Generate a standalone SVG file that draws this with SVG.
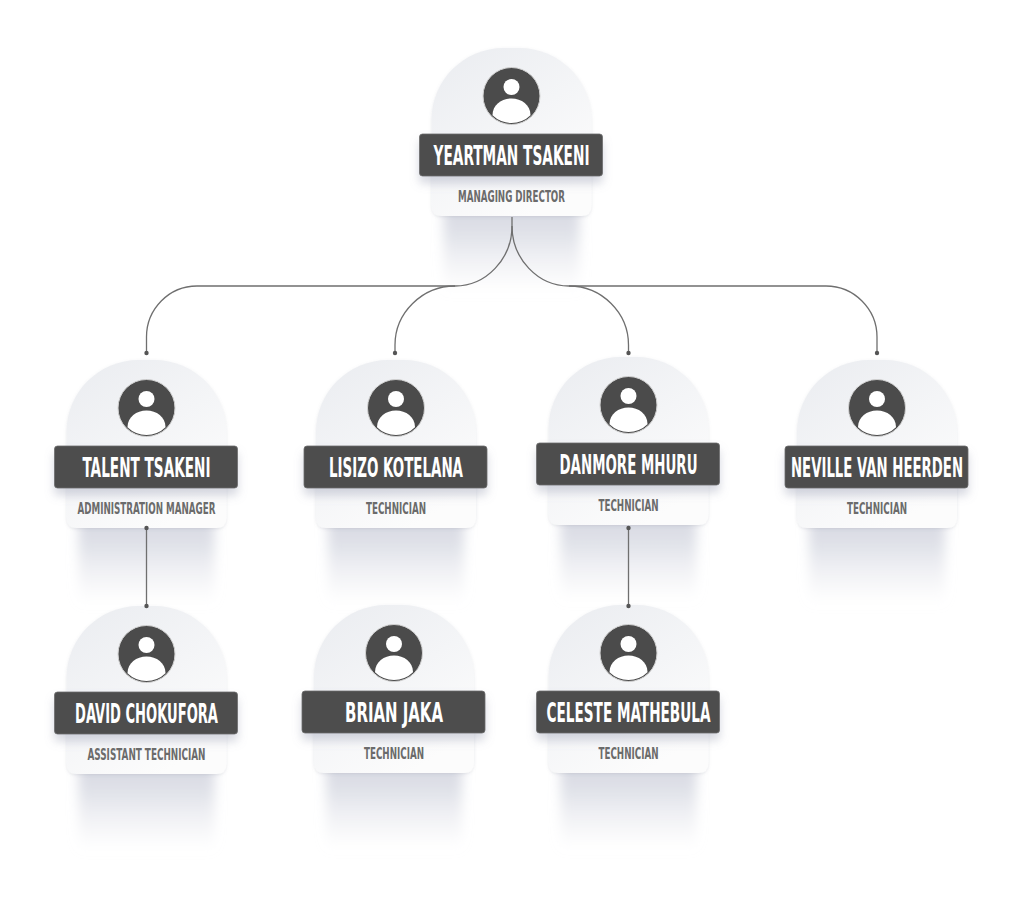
<svg xmlns="http://www.w3.org/2000/svg" xmlns:xlink="http://www.w3.org/1999/xlink" width="1024" height="901" viewBox="0 0 1024 901">
  <defs>
    <style>
      .name { font-family: "Liberation Sans Narrow", "DejaVu Sans Condensed", "Liberation Sans", sans-serif; font-weight: 700; font-size: 27px; fill: #ffffff; text-anchor: middle; }
      .role { font-family: "Liberation Sans Narrow", "DejaVu Sans Condensed", "Liberation Sans", sans-serif; font-weight: 700; font-size: 16px; fill: #6b6b6b; text-anchor: middle; }
      .link { fill: none; stroke: #6f6f6f; stroke-width: 1.3; }
      .dot { fill: #555555; }
    </style>
    <linearGradient id="cardFill" x1="0" y1="0" x2="0.6" y2="1">
      <stop offset="0" stop-color="#eaecf0"/>
      <stop offset="0.55" stop-color="#f4f5f7"/>
      <stop offset="1" stop-color="#fcfcfc"/>
    </linearGradient>
    <linearGradient id="shadowFill" x1="0" y1="0" x2="0" y2="1">
      <stop offset="0" stop-color="#c2c5d2" stop-opacity="0.95"/>
      <stop offset="0.5" stop-color="#cdd0db" stop-opacity="0.6"/>
      <stop offset="1" stop-color="#e2e3ea" stop-opacity="0"/>
    </linearGradient>
    <filter id="blurShadow" x="-30%" y="-30%" width="160%" height="160%">
      <feGaussianBlur stdDeviation="6"/>
    </filter>
    <filter id="cardEdge" x="-10%" y="-10%" width="120%" height="120%">
      <feDropShadow dx="0" dy="1" stdDeviation="1.5" flood-color="#7a7f90" flood-opacity="0.18"/>
    </filter>
    <filter id="barShadow" x="-10%" y="-30%" width="120%" height="190%">
      <feDropShadow dx="0" dy="7" stdDeviation="5" flood-color="#8a90a8" flood-opacity="0.35"/>
    </filter>
    <path id="card" d="M-80,72 A72,72 0 0 1 -8,0 L8,0 A72,72 0 0 1 80,72 L80,158 Q80,168 70,168 L-70,168 Q-80,168 -80,158 Z"/>
    <rect id="underShadow" x="-68" y="128" width="136" height="118" fill="url(#shadowFill)"/>
    <rect id="bar" x="-92" y="86" width="183" height="42" rx="3" fill="#4d4d4d" stroke="#6d6d6d" stroke-width="0.8"/>
    <g id="avatar">
      <circle r="28.5" fill="#4b4b4b" stroke="#d2d2d2" stroke-width="1"/>
      <circle cy="-9" r="8" fill="#ffffff"/>
      <path d="M-19,19.2 C-19,9 -10,2.5 0,2.5 C10,2.5 19,9 19,19.2 A27,27 0 0 1 -19,19.2 Z" fill="#ffffff"/>
    </g>
  </defs>

  <rect width="1024" height="901" fill="#ffffff"/>

  <g id="node-yeartman" transform="translate(511.5,48)">
    <use href="#underShadow" filter="url(#blurShadow)"/>
    <use href="#card" fill="url(#cardFill)" filter="url(#cardEdge)"/>
    <use href="#avatar" y="48"/>
    <use href="#bar" filter="url(#barShadow)"/>
    <text class="name" x="0" y="116.5" textLength="156" lengthAdjust="spacingAndGlyphs">YEARTMAN TSAKENI</text>
    <text class="role" x="0" y="154" textLength="107" lengthAdjust="spacingAndGlyphs">MANAGING DIRECTOR</text>
  </g>

  <g id="node-talent" transform="translate(146.5,360)">
    <use href="#underShadow" filter="url(#blurShadow)"/>
    <use href="#card" fill="url(#cardFill)" filter="url(#cardEdge)"/>
    <use href="#avatar" y="48"/>
    <use href="#bar" filter="url(#barShadow)"/>
    <text class="name" x="0" y="116.5" textLength="128" lengthAdjust="spacingAndGlyphs">TALENT TSAKENI</text>
    <text class="role" x="0" y="154" textLength="138" lengthAdjust="spacingAndGlyphs">ADMINISTRATION MANAGER</text>
  </g>

  <g id="node-lisizo" transform="translate(396,360)">
    <use href="#underShadow" filter="url(#blurShadow)"/>
    <use href="#card" fill="url(#cardFill)" filter="url(#cardEdge)"/>
    <use href="#avatar" y="48"/>
    <use href="#bar" filter="url(#barShadow)"/>
    <text class="name" x="0" y="116.5" textLength="134" lengthAdjust="spacingAndGlyphs">LISIZO KOTELANA</text>
    <text class="role" x="0" y="154" textLength="60" lengthAdjust="spacingAndGlyphs">TECHNICIAN</text>
  </g>

  <g id="node-danmore" transform="translate(628.5,357)">
    <use href="#underShadow" filter="url(#blurShadow)"/>
    <use href="#card" fill="url(#cardFill)" filter="url(#cardEdge)"/>
    <use href="#avatar" y="48"/>
    <use href="#bar" filter="url(#barShadow)"/>
    <text class="name" x="0" y="116.5" textLength="138" lengthAdjust="spacingAndGlyphs">DANMORE MHURU</text>
    <text class="role" x="0" y="154" textLength="60" lengthAdjust="spacingAndGlyphs">TECHNICIAN</text>
  </g>

  <g id="node-neville" transform="translate(877,360)">
    <use href="#underShadow" filter="url(#blurShadow)"/>
    <use href="#card" fill="url(#cardFill)" filter="url(#cardEdge)"/>
    <use href="#avatar" y="48"/>
    <use href="#bar" filter="url(#barShadow)"/>
    <text class="name" x="0" y="116.5" textLength="172" lengthAdjust="spacingAndGlyphs">NEVILLE VAN HEERDEN</text>
    <text class="role" x="0" y="154" textLength="60" lengthAdjust="spacingAndGlyphs">TECHNICIAN</text>
  </g>

  <g id="node-david" transform="translate(146.5,606)">
    <use href="#underShadow" filter="url(#blurShadow)"/>
    <use href="#card" fill="url(#cardFill)" filter="url(#cardEdge)"/>
    <use href="#avatar" y="48"/>
    <use href="#bar" filter="url(#barShadow)"/>
    <text class="name" x="0" y="116.5" textLength="143" lengthAdjust="spacingAndGlyphs">DAVID CHOKUFORA</text>
    <text class="role" x="0" y="154" textLength="118" lengthAdjust="spacingAndGlyphs">ASSISTANT TECHNICIAN</text>
  </g>

  <g id="node-brian" transform="translate(394,605)">
    <use href="#underShadow" filter="url(#blurShadow)"/>
    <use href="#card" fill="url(#cardFill)" filter="url(#cardEdge)"/>
    <use href="#avatar" y="48"/>
    <use href="#bar" filter="url(#barShadow)"/>
    <text class="name" x="0" y="116.5" textLength="98" lengthAdjust="spacingAndGlyphs">BRIAN JAKA</text>
    <text class="role" x="0" y="154" textLength="60" lengthAdjust="spacingAndGlyphs">TECHNICIAN</text>
  </g>

  <g id="node-celeste" transform="translate(628.5,605)">
    <use href="#underShadow" filter="url(#blurShadow)"/>
    <use href="#card" fill="url(#cardFill)" filter="url(#cardEdge)"/>
    <use href="#avatar" y="48"/>
    <use href="#bar" filter="url(#barShadow)"/>
    <text class="name" x="0" y="116.5" textLength="164" lengthAdjust="spacingAndGlyphs">CELESTE MATHEBULA</text>
    <text class="role" x="0" y="154" textLength="60" lengthAdjust="spacingAndGlyphs">TECHNICIAN</text>
  </g>

  <g id="connectors">
    <path class="link" d="M512,217 L512,226 C512,259 486,286 455,286 L197,286 C169,286 146.5,309 146.5,337 L146.5,353"/>
    <path class="link" d="M455,286 C422,286 395,313 395,345 L395,353"/>
    <path class="link" d="M512,226 C512,259 538,286 569,286 L826,286 C854,286 877,309 877,337 L877,353"/>
    <path class="link" d="M569,286 C602,286 628.5,313 628.5,345 L628.5,353"/>
    <path class="link" d="M146.5,528 L146.5,606"/>
    <path class="link" d="M628.5,528 L628.5,606"/>
    <circle class="dot" cx="146.5" cy="353" r="2.2"/>
    <circle class="dot" cx="395" cy="353" r="2.2"/>
    <circle class="dot" cx="628.5" cy="353" r="2.2"/>
    <circle class="dot" cx="877" cy="353" r="2.2"/>
    <circle class="dot" cx="146.5" cy="528" r="2.2"/>
    <circle class="dot" cx="146.5" cy="606" r="2.2"/>
    <circle class="dot" cx="628.5" cy="528" r="2.2"/>
    <circle class="dot" cx="628.5" cy="606" r="2.2"/>
  </g>
</svg>
